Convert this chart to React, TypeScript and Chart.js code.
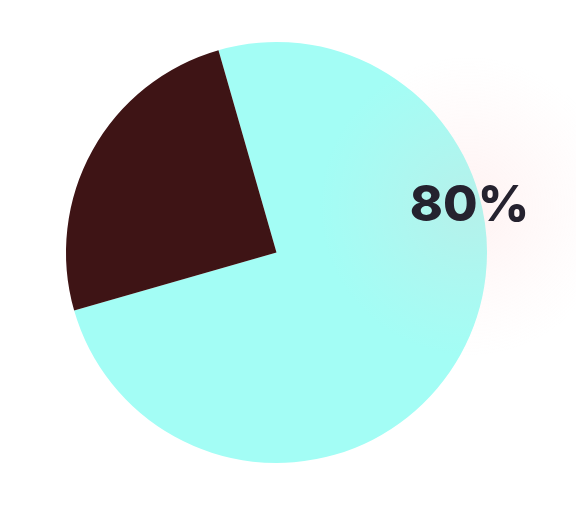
import React, { useEffect, useRef } from "react";
import { Chart, registerables } from "chart.js";

Chart.register(...registerables);

const categories = ["Share", "Rest"];
const values = [75, 25];
const colors = ["#a3fdf5", "#3e1415"];
const labelText = ["80%"];

const glowLabel = {
  id: "glowLabel",
  afterDraw(chart: any) {
    const ctx = chart.ctx;
    const meta = chart.getDatasetMeta(0);
    const arc = meta.data[0];
    if (!arc) return;
    const cx = arc.x;
    const cy = arc.y;
    const r = arc.outerRadius;
    const lx = cx + r * 0.912;
    const ly = cy - r * 0.22;
    ctx.save();
    const g = ctx.createRadialGradient(lx, ly, 0, lx, ly, 150);
    g.addColorStop(0, "rgba(255,190,190,0.2)");
    g.addColorStop(0.5, "rgba(255,200,200,0.1)");
    g.addColorStop(1, "rgba(255,210,210,0)");
    ctx.fillStyle = g;
    ctx.fillRect(lx - 155, ly - 155, 310, 310);
    ctx.fillStyle = "#25222f";
    ctx.font = "800 50px Inter, 'Noto Sans', sans-serif";
    ctx.textAlign = "center";
    ctx.textBaseline = "middle";
    ctx.fillText(labelText[0], lx + 1, ly);
    ctx.restore();
  },
};

export default function App() {
  const ref = useRef<HTMLCanvasElement | null>(null);
  useEffect(() => {
    if (!ref.current) return;
    const chart = new Chart(ref.current, {
      type: "pie",
      data: {
        labels: categories,
        datasets: [
          {
            data: values,
            backgroundColor: colors,
            borderWidth: 0,
          },
        ],
      },
      options: {
        animation: false,
        responsive: false,
        rotation: -16,
        layout: { padding: { left: 66, top: 42, right: 89, bottom: 63 } },
        plugins: {
          legend: { display: false },
          tooltip: { enabled: false },
        },
      },
      plugins: [glowLabel],
    });
    return () => chart.destroy();
  }, []);
  return (
    <div style={{ position: "absolute", left: 0, top: 0, width: 576, height: 526 }}>
      <canvas ref={ref} width={576} height={526} style={{ display: "block" }} />
    </div>
  );
}
